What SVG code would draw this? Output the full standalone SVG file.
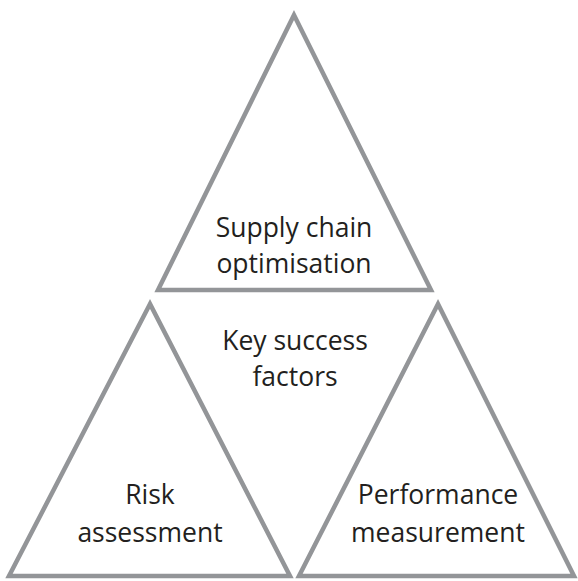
<svg xmlns="http://www.w3.org/2000/svg" width="578" height="581" viewBox="0 0 578 581">
<style>
.tri{fill:none;stroke:#939598;stroke-width:4.5;stroke-linejoin:miter;stroke-miterlimit:10}
.t{font-family:"Open Sans","Noto Sans",sans-serif;font-size:26.5px;fill:#231f20;text-anchor:middle}
</style>
<rect width="578" height="581" fill="#ffffff"/>
<g id="top">
<polygon class="tri" points="294,15 158,290 431,290"/>
<text class="t" x="294" y="237">Supply chain</text>
<text class="t" x="294" y="273">optimisation</text>
</g>
<g id="left">
<polygon class="tri" points="150,304 9,576 290,576"/>
<text class="t" x="150" y="504">Risk</text>
<text class="t" x="150" y="542">assessment</text>
</g>
<g id="right">
<polygon class="tri" points="438,304 299,576 574,576"/>
<text class="t" x="438" y="504">Performance</text>
<text class="t" x="438" y="542">measurement</text>
</g>
<g id="center">
<text class="t" x="295" y="350">Key success</text>
<text class="t" x="295" y="386">factors</text>
</g>
<g id="connectors"></g>
</svg>
